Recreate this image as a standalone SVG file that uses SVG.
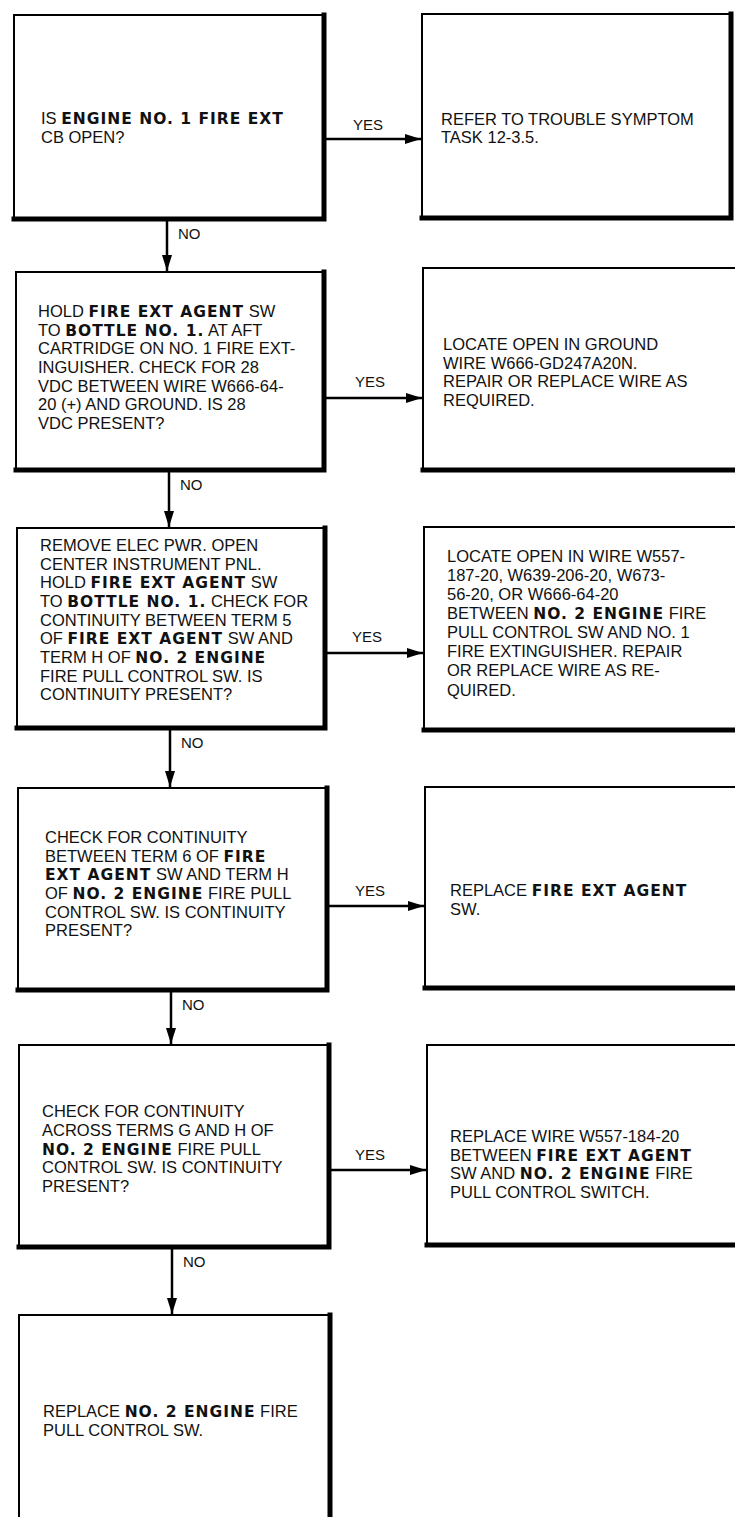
<svg xmlns="http://www.w3.org/2000/svg" width="735" height="1517" viewBox="0 0 735 1517">
<style>
.frame{fill:#fff;stroke:#000;stroke-width:2}
.edge{fill:none;stroke:#000;stroke-width:5;stroke-linecap:square}
.t{font-family:"Liberation Sans",Arial,sans-serif;font-size:16.5px;fill:#111}
.b{font-family:"DejaVu Sans",sans-serif;font-weight:bold;font-size:15.5px;letter-spacing:1px}
.lbl{font-family:"Liberation Sans",Arial,sans-serif;font-size:15px;fill:#111}
.conn{fill:none;stroke:#000;stroke-width:2.5}
</style>
<defs>
<marker id="ah" markerUnits="userSpaceOnUse" markerWidth="16" markerHeight="10" refX="16" refY="5" orient="auto">
<path d="M0,0 L16,5 L0,10 Z" fill="#000"/>
</marker>
</defs>
<rect width="735" height="1517" fill="#fff"/>

<g id="connectors">
<path class="conn" d="M167 221 V271" marker-end="url(#ah)"/>
<path class="conn" d="M169 472 V527" marker-end="url(#ah)"/>
<path class="conn" d="M170 730 V787" marker-end="url(#ah)"/>
<path class="conn" d="M171 992 V1044" marker-end="url(#ah)"/>
<path class="conn" d="M172 1249 V1314" marker-end="url(#ah)"/>
<path class="conn" d="M326 139 H421" marker-end="url(#ah)"/>
<path class="conn" d="M326 398 H422" marker-end="url(#ah)"/>
<path class="conn" d="M327 653 H423" marker-end="url(#ah)"/>
<path class="conn" d="M329 906 H424" marker-end="url(#ah)"/>
<path class="conn" d="M331 1170 H426" marker-end="url(#ah)"/>
<text class="lbl" x="368" y="130" text-anchor="middle">YES</text>
<text class="lbl" x="370" y="387" text-anchor="middle">YES</text>
<text class="lbl" x="367" y="642" text-anchor="middle">YES</text>
<text class="lbl" x="370" y="896" text-anchor="middle">YES</text>
<text class="lbl" x="370" y="1160" text-anchor="middle">YES</text>
<text class="lbl" x="178" y="239">NO</text>
<text class="lbl" x="180" y="490">NO</text>
<text class="lbl" x="181" y="748">NO</text>
<text class="lbl" x="182" y="1010">NO</text>
<text class="lbl" x="183" y="1267">NO</text>
</g>

<g id="n1">
<rect class="frame" x="14" y="15" width="310" height="204"/>
<path class="edge" d="M324 15 V219 H14"/>
<text class="t" x="41" y="124">IS <tspan class="b">ENGINE NO. 1 FIRE EXT</tspan></text>
<text class="t" x="41" y="143">CB OPEN?</text>
</g>

<g id="r1">
<rect class="frame" x="422" y="14" width="309" height="204"/>
<path class="edge" d="M731 14 V218 H422"/>
<text class="t" x="441" y="125">REFER TO TROUBLE SYMPTOM</text>
<text class="t" x="441" y="143">TASK 12-3.5.</text>
</g>

<g id="n2">
<rect class="frame" x="16" y="272" width="308" height="198"/>
<path class="edge" d="M324 272 V470 H16"/>
<text class="t" x="38" y="317">HOLD <tspan class="b">FIRE EXT AGENT</tspan> SW</text>
<text class="t" x="38" y="336">TO <tspan class="b">BOTTLE NO. 1.</tspan> AT AFT</text>
<text class="t" x="38" y="354">CARTRIDGE ON NO. 1 FIRE EXT-</text>
<text class="t" x="38" y="373">INGUISHER. CHECK FOR 28</text>
<text class="t" x="38" y="392">VDC BETWEEN WIRE W666-64-</text>
<text class="t" x="38" y="410">20 (+) AND GROUND. IS 28</text>
<text class="t" x="38" y="429">VDC PRESENT?</text>
</g>

<g id="r2">
<rect class="frame" x="423" y="268" width="322" height="202"/>
<path class="edge" d="M423 470 H745"/>
<text class="t" x="443" y="350">LOCATE OPEN IN GROUND</text>
<text class="t" x="443" y="369">WIRE W666-GD247A20N.</text>
<text class="t" x="443" y="387">REPAIR OR REPLACE WIRE AS</text>
<text class="t" x="443" y="406">REQUIRED.</text>
</g>

<g id="n3">
<rect class="frame" x="17" y="528" width="308" height="200"/>
<path class="edge" d="M325 528 V728 H17"/>
<text class="t" x="40" y="551">REMOVE ELEC PWR. OPEN</text>
<text class="t" x="40" y="570">CENTER INSTRUMENT PNL.</text>
<text class="t" x="40" y="588">HOLD <tspan class="b">FIRE EXT AGENT</tspan> SW</text>
<text class="t" x="40" y="607">TO <tspan class="b">BOTTLE NO. 1.</tspan> CHECK FOR</text>
<text class="t" x="40" y="626">CONTINUITY BETWEEN TERM 5</text>
<text class="t" x="40" y="644">OF <tspan class="b">FIRE EXT AGENT</tspan> SW AND</text>
<text class="t" x="40" y="663">TERM H OF <tspan class="b">NO. 2 ENGINE</tspan></text>
<text class="t" x="40" y="682">FIRE PULL CONTROL SW. IS</text>
<text class="t" x="40" y="700">CONTINUITY PRESENT?</text>
</g>

<g id="r3">
<rect class="frame" x="424" y="527" width="322" height="203"/>
<path class="edge" d="M424 730 H746"/>
<text class="t" x="447" y="562">LOCATE OPEN IN WIRE W557-</text>
<text class="t" x="447" y="581">187-20, W639-206-20, W673-</text>
<text class="t" x="447" y="600">56-20, OR W666-64-20</text>
<text class="t" x="447" y="619">BETWEEN <tspan class="b">NO. 2 ENGINE</tspan> FIRE</text>
<text class="t" x="447" y="638">PULL CONTROL SW AND NO. 1</text>
<text class="t" x="447" y="657">FIRE EXTINGUISHER. REPAIR</text>
<text class="t" x="447" y="676">OR REPLACE WIRE AS RE-</text>
<text class="t" x="447" y="696">QUIRED.</text>
</g>

<g id="n4">
<rect class="frame" x="18" y="788" width="309" height="202"/>
<path class="edge" d="M327 788 V990 H18"/>
<text class="t" x="45" y="843">CHECK FOR CONTINUITY</text>
<text class="t" x="45" y="862">BETWEEN TERM 6 OF <tspan class="b">FIRE</tspan></text>
<text class="t" x="45" y="880"><tspan class="b">EXT AGENT</tspan> SW AND TERM H</text>
<text class="t" x="45" y="899">OF <tspan class="b">NO. 2 ENGINE</tspan> FIRE PULL</text>
<text class="t" x="45" y="918">CONTROL SW. IS CONTINUITY</text>
<text class="t" x="45" y="936">PRESENT?</text>
</g>

<g id="r4">
<rect class="frame" x="425" y="787" width="322" height="201"/>
<path class="edge" d="M425 988 H747"/>
<text class="t" x="450" y="896">REPLACE <tspan class="b">FIRE EXT AGENT</tspan></text>
<text class="t" x="450" y="915">SW.</text>
</g>

<g id="n5">
<rect class="frame" x="19" y="1045" width="310" height="202"/>
<path class="edge" d="M329 1045 V1247 H19"/>
<text class="t" x="42" y="1117">CHECK FOR CONTINUITY</text>
<text class="t" x="42" y="1136">ACROSS TERMS G AND H OF</text>
<text class="t" x="42" y="1155"><tspan class="b">NO. 2 ENGINE</tspan> FIRE PULL</text>
<text class="t" x="42" y="1173">CONTROL SW. IS CONTINUITY</text>
<text class="t" x="42" y="1192">PRESENT?</text>
</g>

<g id="r5">
<rect class="frame" x="427" y="1045" width="322" height="200"/>
<path class="edge" d="M427 1245 H749"/>
<text class="t" x="450" y="1142">REPLACE WIRE W557-184-20</text>
<text class="t" x="450" y="1161">BETWEEN <tspan class="b">FIRE EXT AGENT</tspan></text>
<text class="t" x="450" y="1179">SW AND <tspan class="b">NO. 2 ENGINE</tspan> FIRE</text>
<text class="t" x="450" y="1198">PULL CONTROL SWITCH.</text>
</g>

<g id="n6">
<rect class="frame" x="19" y="1315" width="311" height="230"/>
<path class="edge" d="M330 1315 V1545"/>
<text class="t" x="43" y="1417">REPLACE <tspan class="b">NO. 2 ENGINE</tspan> FIRE</text>
<text class="t" x="43" y="1436">PULL CONTROL SW.</text>
</g>
</svg>
